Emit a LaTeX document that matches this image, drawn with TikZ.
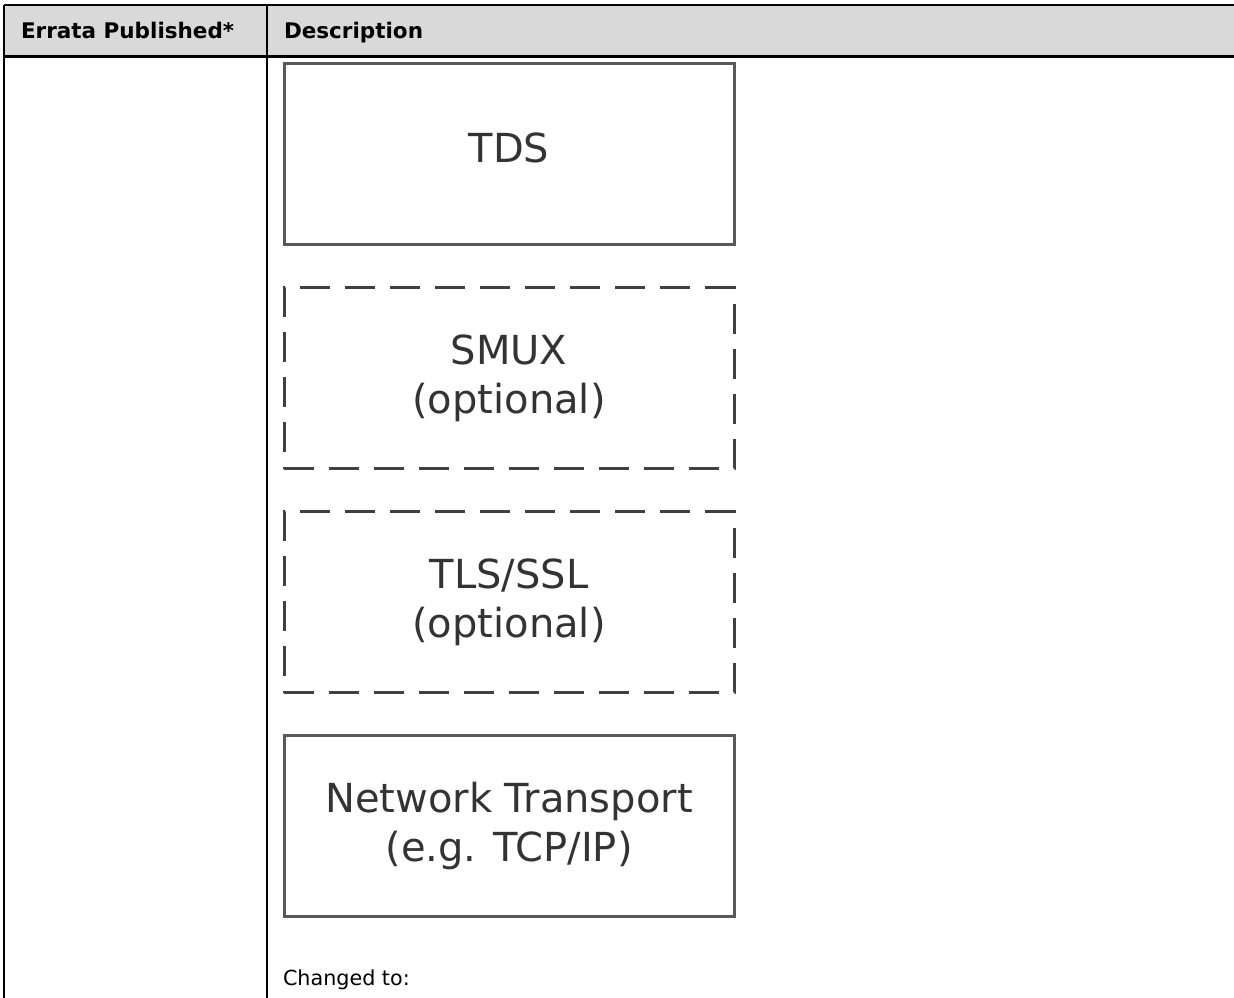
\documentclass[tikz,border=0pt]{standalone}
\usepackage{fontspec}
\setmainfont{DejaVu Sans}
\usetikzlibrary{positioning}

\begin{document}
\begin{tikzpicture}
	[x=1pt,y=-1pt,every node/.style={inner sep=0pt, outer sep=0pt}]
	\tikzstyle{layer} = [draw=black!65, line width=3pt, minimum width=450pt, minimum height=181pt, align=center, text=black!80, font=\fontsize{40}{49}\selectfont];
	\tikzstyle{optlayer} = [layer, draw=black!75, dash pattern=on 30pt off 15pt];
	\tikzstyle{rule} = [black, line width=1.2pt];
	\tikzstyle{headtext} = [anchor=base west, font=\fontsize{21.5}{24}\selectfont\bfseries];
	
	\useasboundingbox (0,0) rectangle (1234,998);
	
	% table
	\fill[black!15] (4,5) rectangle (1234,56);
	\draw[rule] (4,5) -- (1234,5);
	\draw[black, line width=2.5pt] (4,56.5) -- (1234,56.5);
	\draw[rule] (4,5) -- (4,998);
	\draw[rule] (267,5) -- (267,998);
	
	\node[headtext] (errata) at (21,39) {Errata Published*};
	\node[headtext] (descr) at (284,39) {Description};
	
	% layers
	\node[layer] (tds) at (509,154) {\raisebox{12pt}{TDS}};
	\node[optlayer] (smux) at (509,378) {SMUX\\(optional)};
	\node[optlayer] (tls) at (509,602) {TLS/SSL\\(optional)};
	\node[layer] (net) at (509,826) {Network Transport\\(e.g. TCP/IP)};
	
	\node[anchor=base west, font=\fontsize{20.7}{24}\selectfont] (changed) at (283,985) {Changed to:};
\end{tikzpicture}
\end{document}
